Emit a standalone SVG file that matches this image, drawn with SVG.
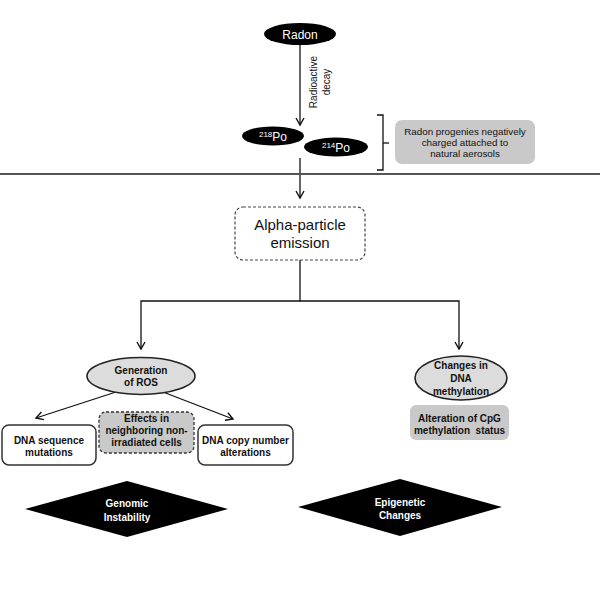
<svg xmlns="http://www.w3.org/2000/svg" width="600" height="600" viewBox="0 0 600 600">
<defs>
<style>
text{font-family:"Liberation Sans",Arial,sans-serif;text-anchor:middle}
.b{font-weight:bold;font-size:10px;fill:#111}
.w{fill:#fff}
.blk{fill:#000}
.gell{fill:#dcdcdc;stroke:#222;stroke-width:1.6}
.box{fill:#fff;stroke:#333;stroke-width:1.5}
.gbox{fill:#c9c9c9;stroke:none}
.con{fill:none;stroke:#111;stroke-width:1.3}
</style>
<marker id="ah" markerWidth="10" markerHeight="10" refX="8" refY="5" orient="auto" markerUnits="userSpaceOnUse">
<polyline points="1,1 8,5 1,9" fill="none" stroke="#111" stroke-width="1.4"/>
</marker>
</defs>
<rect width="600" height="600" fill="#fff"/>

<g id="connectors">
<line class="con" x1="300" y1="45" x2="300" y2="125" marker-end="url(#ah)"/>
<line class="con" x1="300" y1="158" x2="300" y2="198" marker-end="url(#ah)"/>
<polyline class="con" points="300,260 300,301 141,301 141,349" marker-end="url(#ah)"/>
<polyline class="con" points="300,301 459,301 459,349" marker-end="url(#ah)"/>
<line class="con" x1="116" y1="392" x2="36" y2="418" marker-end="url(#ah)"/>
<line class="con" x1="163" y1="392" x2="233" y2="419" marker-end="url(#ah)"/>
</g>

<line id="divider" x1="0" y1="174" x2="600" y2="174" stroke="#555" stroke-width="2"/>

<g id="radon">
<ellipse class="blk" cx="300" cy="34" rx="36" ry="11"/>
<text class="w" x="300" y="38.5" font-size="12">Radon</text>
</g>

<g id="decay-label" font-size="10" fill="#111">
<text transform="translate(317,82) rotate(-90)">Radioactive</text>
<text transform="translate(330,82) rotate(-90)">decay</text>
</g>

<g id="po218">
<ellipse class="blk" cx="273" cy="136" rx="31" ry="9.5"/>
<text class="w" x="273" y="140.5" font-size="12"><tspan font-size="8" dy="-4">218</tspan><tspan dy="4">Po</tspan></text>
</g>
<g id="po214">
<ellipse class="blk" cx="336" cy="147" rx="32" ry="9.5"/>
<text class="w" x="336" y="151.5" font-size="12"><tspan font-size="8" dy="-4">214</tspan><tspan dy="4">Po</tspan></text>
</g>

<g id="bracket">
<polyline points="377,115 383,115 383,170 377,170" fill="none" stroke="#111" stroke-width="1.3"/>
<line x1="383" y1="143" x2="389" y2="143" stroke="#111" stroke-width="1.3"/>
</g>

<g id="progenies">
<rect class="gbox" x="395" y="120" width="140" height="44" rx="7"/>
<text x="465" y="135" font-size="9.8" fill="#111">Radon progenies negatively</text>
<text x="465" y="146" font-size="9.8" fill="#111">charged attached to</text>
<text x="465" y="157" font-size="9.8" fill="#111">natural aerosols</text>
</g>

<g id="alpha">
<rect x="235" y="207" width="130" height="53" rx="8" fill="#fff" stroke="#444" stroke-width="1.2" stroke-dasharray="3,2"/>
<text x="300" y="230" font-size="15" fill="#111">Alpha-particle</text>
<text x="300" y="248" font-size="15" fill="#111">emission</text>
</g>

<g id="ros">
<ellipse class="gell" cx="141" cy="376" rx="54" ry="18.5"/>
<text class="b" x="141" y="374">Generation</text>
<text class="b" x="141" y="386">of ROS</text>
</g>

<g id="methylation">
<ellipse class="gell" cx="461" cy="378" rx="46" ry="22"/>
<text class="b" x="461" y="369">Changes in</text>
<text class="b" x="461" y="382">DNA</text>
<text class="b" x="461" y="395">methylation</text>
</g>

<g id="cpg">
<rect class="gbox" x="410" y="405" width="99" height="35" rx="6"/>
<text class="b" x="459.5" y="421.5">Alteration of CpG</text>
<text class="b" x="459.5" y="434" xml:space="preserve">methylation  status</text>
</g>

<g id="dna-seq">
<rect class="box" x="2" y="425" width="94" height="40" rx="7"/>
<text class="b" x="49" y="444">DNA sequence</text>
<text class="b" x="49" y="456">mutations</text>
</g>

<g id="effects">
<rect x="99" y="412" width="95" height="41" rx="7" fill="#c9c9c9" stroke="#333" stroke-width="1.3" stroke-dasharray="3,2"/>
<text class="b" x="146.5" y="422">Effects in</text>
<text class="b" x="146.5" y="434">neighboring non-</text>
<text class="b" x="146.5" y="446">irradiated cells</text>
</g>

<g id="dna-copy">
<rect class="box" x="198" y="425" width="95" height="40" rx="7"/>
<text class="b" x="245.5" y="444">DNA copy number</text>
<text class="b" x="245.5" y="456">alterations</text>
</g>

<g id="genomic">
<polygon class="blk" points="25,509 127,481 228,509 127,537"/>
<text class="b w" x="127" y="507" style="fill:#fff">Genomic</text>
<text class="b w" x="127" y="521" style="fill:#fff">Instability</text>
</g>

<g id="epigenetic">
<polygon class="blk" points="298,507 400,479 502,507 400,536"/>
<text class="b" x="400" y="506" style="fill:#fff">Epigenetic</text>
<text class="b" x="400" y="519" style="fill:#fff">Changes</text>
</g>
</svg>
